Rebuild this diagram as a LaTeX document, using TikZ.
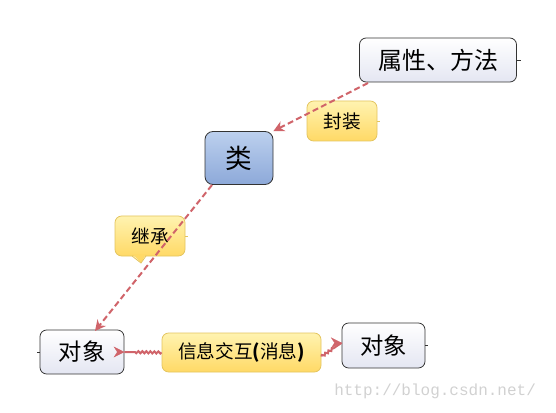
\documentclass[tikz,border=0pt]{standalone}
\usepackage{fontspec}
\newfontfamily\cjk{Noto Sans CJK SC}
\setmonofont{Liberation Mono}
\usetikzlibrary{decorations.pathmorphing,arrows.meta,shadings}
\definecolor{arr}{HTML}{D0646A}
\definecolor{ybord}{HTML}{E3C45E}
\definecolor{ytop}{HTML}{FFF3B0}
\definecolor{ybot}{HTML}{FFD966}
\definecolor{btop}{HTML}{BCD0EE}
\definecolor{bbot}{HTML}{8DA9D9}
\definecolor{otop}{HTML}{FFFFFF}
\definecolor{obot}{HTML}{E4E6F2}
\tikzset{
  objbox/.style={draw=black!80, line width=0.6pt, rounded corners=5pt, top color=otop, bottom color=obot, inner sep=0pt, font=\cjk},
  clsbox/.style={draw=black!80, line width=0.6pt, rounded corners=6pt, top color=btop, bottom color=bbot, inner sep=0pt, font=\cjk},
  lblbox/.style={draw=ybord, line width=0.6pt, rounded corners=5pt, top color=ytop, bottom color=ybot, inner sep=0pt, font=\cjk},
  tip/.style={-{Stealth[length=8pt,width=8pt]}},
  conn/.style={draw=arr, line width=1.5pt, dash pattern=on 4.5pt off 2.5pt, tip},
  wavy/.style={draw=arr, line width=1.5pt, decorate, decoration={snake, amplitude=0.8pt, segment length=3pt, post length=7pt}},
  tick/.style={draw=black!80, line width=0.5pt}
}
\begin{document}
\begin{tikzpicture}[x=0.75pt,y=-0.75pt]
\useasboundingbox (0,0) rectangle (556,413);
% nodes
\node[objbox, minimum width=157*0.75pt, minimum height=44*0.75pt, font=\cjk\fontsize{18}{20}\selectfont] (attr) at (438,60) {属性、方法};
\node[lblbox, minimum width=70*0.75pt, minimum height=40*0.75pt, font=\cjk\fontsize{14}{16}\selectfont] (enc) at (342,121) {封装};
\node[clsbox, minimum width=68*0.75pt, minimum height=53*0.75pt, font=\cjk\fontsize{20}{22}\selectfont] (cls) at (239,158) {类};
\node[lblbox, minimum width=70*0.75pt, minimum height=40*0.75pt, font=\cjk\fontsize{14}{16}\selectfont] (inh) at (150,236) {继承};
\node[objbox, minimum width=84*0.75pt, minimum height=44*0.75pt, font=\cjk\fontsize{17.5}{19}\selectfont] (objL) at (82,352) {对象};
\node[lblbox, minimum width=159*0.75pt, minimum height=39*0.75pt, font=\cjk\fontsize{14}{16}\selectfont] (msg) at (241.5,352.5) {信息交互\textbf{(}消息\textbf{)}};
\node[objbox, minimum width=83*0.75pt, minimum height=45*0.75pt, font=\cjk\fontsize{17.5}{19}\selectfont] (objR) at (383.5,345.5) {对象};
% callout tail of 继承
\fill[ybot] (132,254) -- (141,263) -- (146,254) -- cycle;
\draw[ybord, line width=0.6pt] (132,256) -- (141,263) -- (146,256);
% small ticks
\draw[tick] (attr.east) -- ++(4,0);
\draw[tick] (objL.west) -- ++(-3,0);
\draw[tick] (objR.east) -- ++(3,0);
\draw[draw=ybord, line width=0.5pt] (enc.east) -- ++(3,0);
\draw[draw=ybord, line width=0.5pt] (inh.east) -- ++(3,0);
% connectors
\coordinate (a1) at (368,83);
\coordinate (c1) at (212,185);
\draw[conn] (a1) -- (cls.north east);
\draw[conn] (c1) -- (95,331) coordinate (o1);
\draw[wavy] (msg.west) -- (objL.east);
\draw[draw=arr, tip, line width=0.1pt] ([xshift=-2pt]objL.east) -- (objL.east);
\draw[wavy] ([yshift=-3pt]msg.east) -- ([yshift=2pt]objR.west);
\draw[draw=arr, tip, line width=0.1pt] ([xshift=-2pt,yshift=2pt]objR.west) -- ([yshift=2pt]objR.west);
% watermark
\node[anchor=west, text=black!18, font=\ttfamily\fontsize{12}{14}\selectfont, inner sep=0pt] (wm) at (334,391) {http://blog.csdn.net/};
\end{tikzpicture}
\end{document}
